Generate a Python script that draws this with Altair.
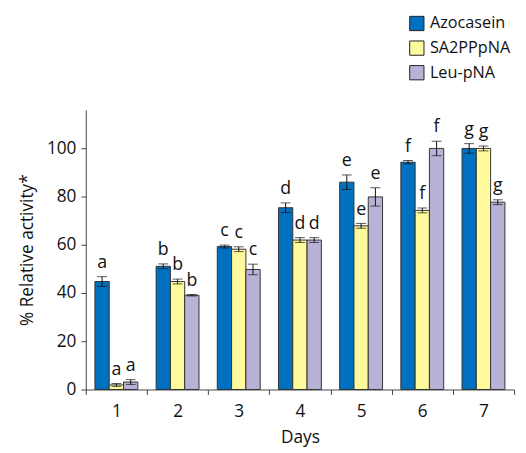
import altair as alt
import pandas as pd

days = ["1", "2", "3", "4", "5", "6", "7"]
series = ["Azocasein", "SA2PPpNA", "Leu-pNA"]
colors = ["#0070C0", "#FFFA9C", "#B9B2D7"]

azocasein = [44.8, 51.1, 59.3, 75.4, 86.0, 94.3, 100.0]
azocasein_err = [2.0, 1.0, 0.6, 2.0, 3.0, 0.7, 2.0]
azocasein_letters = ["a", "b", "c", "d", "e", "f", "g"]

sa2ppp = [1.9, 44.8, 58.2, 62.0, 67.9, 74.3, 100.0]
sa2ppp_err = [0.6, 1.0, 1.0, 1.0, 1.0, 1.0, 1.0]
sa2ppp_letters = ["a", "b", "c", "d", "e", "f", "g"]

leu = [3.1, 39.1, 49.8, 62.0, 79.9, 100.0, 77.7]
leu_err = [1.0, 0.3, 2.2, 1.0, 3.8, 3.0, 1.0]
leu_letters = ["a", "b", "c", "d", "e", "f", "g"]

rows = []
for s, vals, errs, lets in [
    ("Azocasein", azocasein, azocasein_err, azocasein_letters),
    ("SA2PPpNA", sa2ppp, sa2ppp_err, sa2ppp_letters),
    ("Leu-pNA", leu, leu_err, leu_letters),
]:
    for d, v, e, l in zip(days, vals, errs, lets):
        rows.append(dict(day=d, series=s, value=v, lo=v - e, hi=v + e, letter=l))
df = pd.DataFrame(rows)

FONT = "Open Sans"

x = alt.X(
    "day:N",
    sort=days,
    title="Days",
    scale=alt.Scale(paddingInner=0, paddingOuter=0),
    axis=alt.Axis(labelAngle=0, tickBand="extent", labelPadding=8, titlePadding=9),
)
xo = alt.XOffset("series:N", sort=series, scale=alt.Scale(paddingInner=0, paddingOuter=0.64))
yscale = alt.Scale(domain=[0, 116], nice=False)

base = alt.Chart(df)

bars = base.mark_bar(stroke="#333333", strokeWidth=1).encode(
    x=x,
    xOffset=xo,
    y=alt.Y(
        "value:Q",
        scale=yscale,
        title="% Relative activity*",
        axis=alt.Axis(values=[0, 20, 40, 60, 80, 100], labelPadding=5, titlePadding=10),
    ),
    color=alt.Color(
        "series:N",
        sort=series,
        scale=alt.Scale(domain=series, range=colors),
        legend=alt.Legend(
            title=None,
            orient="none",
            legendX=328,
            legendY=-96,
            symbolType="square",
            symbolSize=210,
            symbolStrokeColor="#222222",
            symbolStrokeWidth=1,
            symbolOpacity=1,
            labelFontSize=16.5,
            labelFont=FONT,
            labelColor="#111111",
            rowPadding=6,
            labelOffset=5,
        ),
    ),
)

rule = base.mark_rule(color="#111111", strokeWidth=1).encode(
    x=x, xOffset=xo, y=alt.Y("lo:Q", scale=yscale), y2="hi:Q"
)
cap_hi = base.mark_tick(color="#111111", thickness=1, size=10).encode(
    x=x, xOffset=xo, y=alt.Y("hi:Q", scale=yscale)
)
cap_lo = base.mark_tick(color="#111111", thickness=1, size=10).encode(
    x=x, xOffset=xo, y=alt.Y("lo:Q", scale=yscale)
)
text = base.mark_text(baseline="alphabetic", dy=-9, fontSize=18, font=FONT, color="#111111").encode(
    x=x, xOffset=xo, y=alt.Y("hi:Q", scale=yscale), text="letter:N"
)

chart = (
    alt.layer(bars, rule, cap_hi, cap_lo, text)
    .properties(
        width=435,
        height=284,
        autosize=alt.AutoSizeParams(type="none"),
        padding={"left": 79, "top": 100, "right": 4, "bottom": 60},
    )
    .configure_view(stroke=None)
    .configure_axis(
        grid=False,
        domainColor="#444444",
        tickColor="#444444",
        tickSize=5,
        labelFont=FONT,
        titleFont=FONT,
        labelFontSize=17.5,
        titleFontSize=17.5,
        titleFontWeight="normal",
        labelColor="#111111",
        titleColor="#111111",
    )
)

chart.save("out.html", embed_options={"renderer": "svg", "actions": False})
